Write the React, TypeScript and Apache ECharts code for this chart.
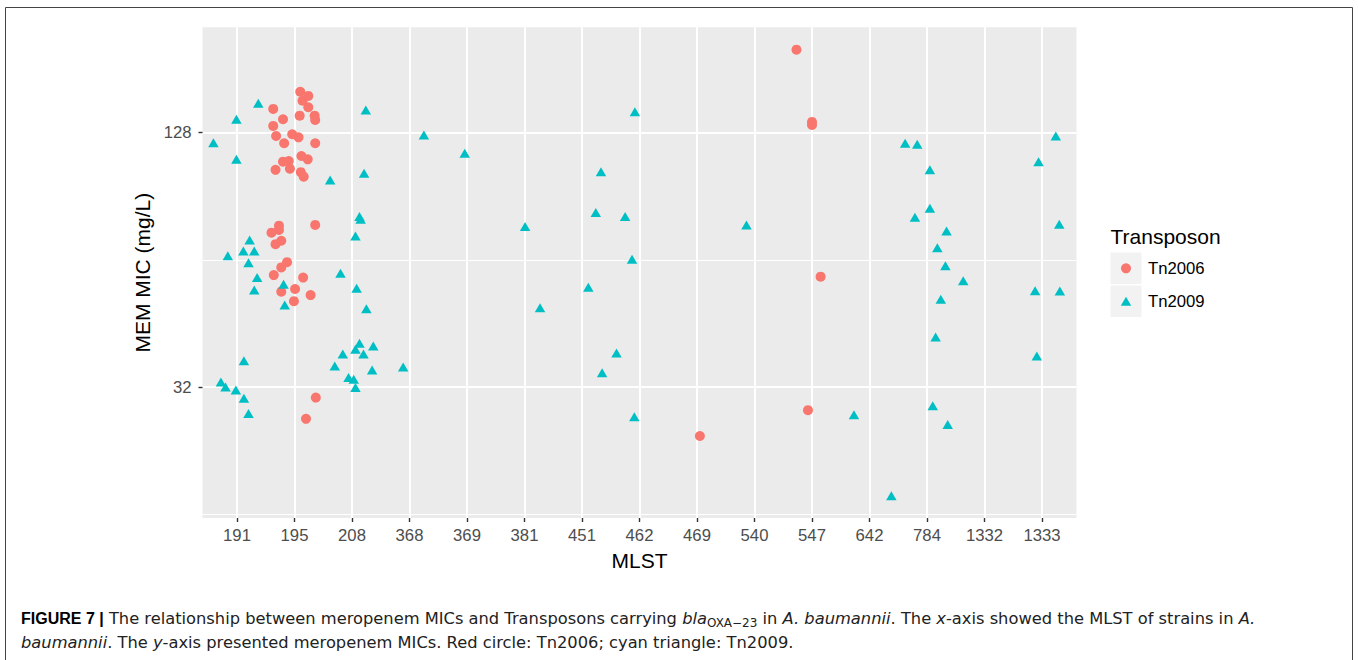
import React, { useEffect, useRef } from 'react';
import * as echarts from 'echarts';

const FONT = "'Liberation Sans', Arial, Helvetica, sans-serif";
const CAPTION_FONT = "'DejaVu Sans', 'Liberation Sans', Arial, sans-serif";

// MLST categories (x axis)
const strains = ['191', '195', '208', '368', '369', '381', '451', '462', '469', '540', '547', '642', '784', '1332', '1333'];
// y axis (log2) ticks
const yMajorTicks = [32, 128];
const yMinorTicks = [16, 64];

// Tn2006 (red circles): strain, horizontal jitter, MEM MIC (jittered)
const tn2006Strain = [
  '195', '195', '195', '195', '195', '195', '195', '195', '195', '195',
  '195', '195', '195', '195', '195', '195', '195', '195', '195', '195',
  '195', '195', '195', '195', '195', '195', '195', '195', '195', '195',
  '195', '195', '195', '195', '195', '195', '195', '195', '195',
  '547', '547', '547', '547', '547', '469'
];
const tn2006Jitter = [
  0.10, 0.24, 0.14, 0.24, -0.37, 0.09, 0.35, 0.36, -0.20, -0.37,
  -0.04, 0.07, -0.32, -0.18, 0.36, 0.12, 0.23, -0.20, -0.10, -0.33,
  -0.08, 0.11, 0.16, 0.36, -0.27, -0.27, -0.40, -0.23, -0.33, -0.13,
  -0.23, -0.36, 0.15, 0.01, -0.23, 0.28, -0.01, 0.37, 0.20,
  -0.27, 0.00, 0.00, 0.15, -0.07, 0.05
];
const tn2006Mic = [
  160.0, 156.4, 152.4, 147.0, 145.7, 140.4, 140.4, 137.2, 137.7, 132.8,
  126.9, 124.8, 125.7, 120.8, 120.8, 112.7, 110.7, 109.3, 109.7, 104.5,
  105.2, 103.2, 100.7, 77.4, 77.1, 75.3, 74.2, 71.0, 69.7, 63.2,
  61.4, 58.9, 58.1, 54.6, 53.8, 52.8, 51.1, 30.2, 26.9,
  201.2, 135.7, 133.5, 58.4, 28.2, 24.5
];

// Tn2009 (cyan triangles)
const tn2009Strain = [
  '191', '191', '191', '191', '191', '191', '191', '191', '191', '191',
  '191', '191', '191', '191', '191', '191', '191',
  '195', '195',
  '208', '208', '208', '208', '208', '208', '208', '208', '208', '208',
  '208', '208', '208', '208', '208', '208', '208', '208', '208',
  '368', '368', '369', '381', '381',
  '451', '451', '451', '462', '451',
  '462', '462', '462', '462',
  '540', '642', '642',
  '784', '784', '784', '784', '784', '784', '784', '784', '1332', '784',
  '784', '784', '784',
  '1333', '1333', '1333', '1333', '1333', '1333'
];
const tn2009Jitter = [
  0.37, -0.01, -0.41, -0.01, 0.22, 0.11, 0.30, -0.16, 0.20, 0.35,
  0.30, 0.12, -0.28, -0.20, -0.02, 0.12, 0.20,
  -0.19, -0.17,
  0.24, 0.21, -0.38, 0.13, 0.15, 0.06, -0.20, 0.08, 0.25, 0.13,
  0.37, 0.06, -0.16, 0.20, -0.30, 0.35, -0.06, 0.03, 0.06,
  0.25, -0.11, -0.04, 0.01, 0.27,
  0.33, 0.24, 0.11, -0.40, 0.35,
  -0.08, -0.25, -0.13, -0.09,
  -0.14, -0.27, 0.38,
  -0.38, -0.17, 0.05, 0.05, -0.21, 0.34, 0.18, 0.32, -0.37, 0.24,
  0.15, 0.10, 0.36,
  0.24, -0.06, 0.30, -0.12, 0.31, -0.09
];
const tn2009Mic = [
  150.2, 137.7, 121.2, 110.7, 71.3, 67.2, 67.2, 65.4, 63.0, 58.1,
  54.3, 36.9, 32.9, 32.0, 31.5, 30.1, 27.7,
  56.0, 50.0,
  144.9, 102.6, 98.9, 81.0, 79.8, 72.9, 59.5, 54.8, 49.0, 40.6,
  40.0, 39.3, 38.3, 38.3, 35.9, 35.1, 33.7, 33.4, 31.9,
  126.4, 35.7, 114.4, 76.7, 49.3,
  103.5, 82.8, 55.1, 38.5, 34.6,
  143.5, 81.0, 64.2, 27.2,
  77.4, 27.5, 17.7,
  120.8, 120.2, 104.5, 84.8, 80.7, 74.9, 68.4, 62.0, 57.1, 51.6,
  42.0, 28.9, 26.1,
  125.7, 109.3, 77.7, 54.1, 54.0, 37.9
];

const Y_MIN = 15.67;
const Y_MAX = 227.3;

function toPoints(strain: string[], jitter: number[], mic: number[]) {
  return strain.map((s, i) => [strains.indexOf(s) + jitter[i], mic[i]]);
}

export default function App() {
  const ref = useRef<HTMLDivElement>(null);

  useEffect(() => {
    if (!ref.current) return;
    const chart = echarts.init(ref.current, undefined, { renderer: 'svg' });
    const axisLabelStyle = { color: '#4D4D4D', fontSize: 16.7, fontFamily: FONT };
    const tickStyle = { color: '#333333', width: 1.4 };
    const captionRich = {
      b: { fontWeight: 'bold', fontSize: 16, fill: '#000000', fontFamily: FONT },
      i: { fontStyle: 'italic', fontSize: 16.3, fill: '#222222', fontFamily: CAPTION_FONT },
      sub: { fontSize: 12, fill: '#222222', fontFamily: CAPTION_FONT, padding: [9, 0, 0, 0] },
    };
    const option: any = {
      animation: false,
      textStyle: { fontFamily: FONT },
      grid: {
        left: 202.5, top: 27.3, right: 282.5, bottom: 142,
        show: true, backgroundColor: '#EBEBEB', borderWidth: 0,
      },
      xAxis: {
        type: 'value',
        min: -0.6,
        max: 14.6,
        axisLine: { show: false, onZero: false },
        axisTick: {
          show: true, length: 4, lineStyle: tickStyle,
          customValues: strains.map((_, i) => i),
        },
        axisLabel: {
          ...axisLabelStyle,
          margin: 8.5,
          customValues: strains.map((_, i) => i),
          formatter: (v: number) => strains[Math.round(v)] ?? '',
        },
        splitLine: { show: true, lineStyle: { color: '#FFFFFF', width: 2 } },
        name: 'MLST',
        nameLocation: 'middle',
        nameGap: 32,
        nameTextStyle: { fontSize: 21, color: '#000000', fontFamily: FONT },
      },
      yAxis: [
        {
          type: 'log',
          logBase: 2,
          min: Y_MIN,
          max: Y_MAX,
          position: 'left',
          axisLine: { show: false, onZero: false },
          axisTick: {
            show: true, length: 4, lineStyle: tickStyle,
            customValues: yMajorTicks,
          },
          axisLabel: {
            ...axisLabelStyle,
            margin: 11,
            customValues: yMajorTicks,
            formatter: (v: number) => String(Math.round(v)),
          },
          splitLine: { show: true, lineStyle: { color: '#FFFFFF', width: 2 } },
          name: 'MEM MIC (mg/L)',
          nameLocation: 'middle',
          nameGap: 50,
          nameTextStyle: { fontSize: 21, color: '#000000', fontFamily: FONT },
        },
        {
          type: 'log',
          logBase: 2,
          min: Y_MIN,
          max: Y_MAX,
          position: 'left',
          axisLine: { show: false, onZero: false },
          axisTick: { show: false, customValues: yMinorTicks },
          axisLabel: { show: false, customValues: yMinorTicks },
          splitLine: { show: true, lineStyle: { color: '#FFFFFF', width: 1 } },
        },
      ],
      series: [
        {
          name: 'Tn2006',
          type: 'scatter',
          symbol: 'circle',
          symbolSize: 10,
          itemStyle: { color: '#F8766D', opacity: 1 },
          data: toPoints(tn2006Strain, tn2006Jitter, tn2006Mic),
        },
        {
          name: 'Tn2009',
          type: 'scatter',
          symbol: 'triangle',
          symbolSize: [10.5, 9],
          itemStyle: { color: '#00BFC4', opacity: 1 },
          data: toPoints(tn2009Strain, tn2009Jitter, tn2009Mic),
        },
      ],
      graphic: [
        {
          type: 'rect', silent: true,
          shape: { x: 5.5, y: 7.5, width: 1347, height: 700 },
          style: { fill: 'none', stroke: '#444444', lineWidth: 1 },
        },
        {
          type: 'text', x: 1110.5, y: 236.7,
          style: { text: 'Transposon', fontSize: 21, fill: '#000000', fontFamily: FONT, verticalAlign: 'middle' },
        },
        { type: 'rect', shape: { x: 1110.5, y: 252.5, width: 31, height: 31.5 }, style: { fill: '#F2F2F2' } },
        { type: 'rect', shape: { x: 1110.5, y: 285.5, width: 31, height: 31.5 }, style: { fill: '#F2F2F2' } },
        { type: 'circle', shape: { cx: 1126, cy: 268.3, r: 5 }, style: { fill: '#F8766D' } },
        {
          type: 'polygon',
          shape: { points: [[1126, 296.8], [1131.2, 305.8], [1120.8, 305.8]] },
          style: { fill: '#00BFC4' },
        },
        {
          type: 'text', x: 1148, y: 268.3,
          style: { text: 'Tn2006', fontSize: 16.7, fill: '#000000', fontFamily: FONT, verticalAlign: 'middle' },
        },
        {
          type: 'text', x: 1148, y: 301.5,
          style: { text: 'Tn2009', fontSize: 16.7, fill: '#000000', fontFamily: FONT, verticalAlign: 'middle' },
        },
        {
          type: 'text', x: 21, y: 618,
          style: {
            text: '{b|FIGURE 7 |} The relationship between meropenem MICs and Transposons carrying {i|bla}{sub|OXA\u221223} in {i|A. baumannii}. The {i|x}-axis showed the MLST of strains in {i|A.}',
            fontSize: 16.3, fill: '#222222', fontFamily: CAPTION_FONT, verticalAlign: 'middle',
            rich: captionRich,
          },
        },
        {
          type: 'text', x: 21, y: 642,
          style: {
            text: '{i|baumannii}. The {i|y}-axis presented meropenem MICs. Red circle: Tn2006; cyan triangle: Tn2009.',
            fontSize: 16.3, fill: '#222222', fontFamily: CAPTION_FONT, verticalAlign: 'middle',
            rich: captionRich,
          },
        },
      ],
    };
    chart.setOption(option);
    return () => chart.dispose();
  }, []);

  return (
    <div
      ref={ref}
      style={{ position: 'absolute', left: 0, top: 0, width: 1359, height: 660, background: '#FFFFFF' }}
    />
  );
}
